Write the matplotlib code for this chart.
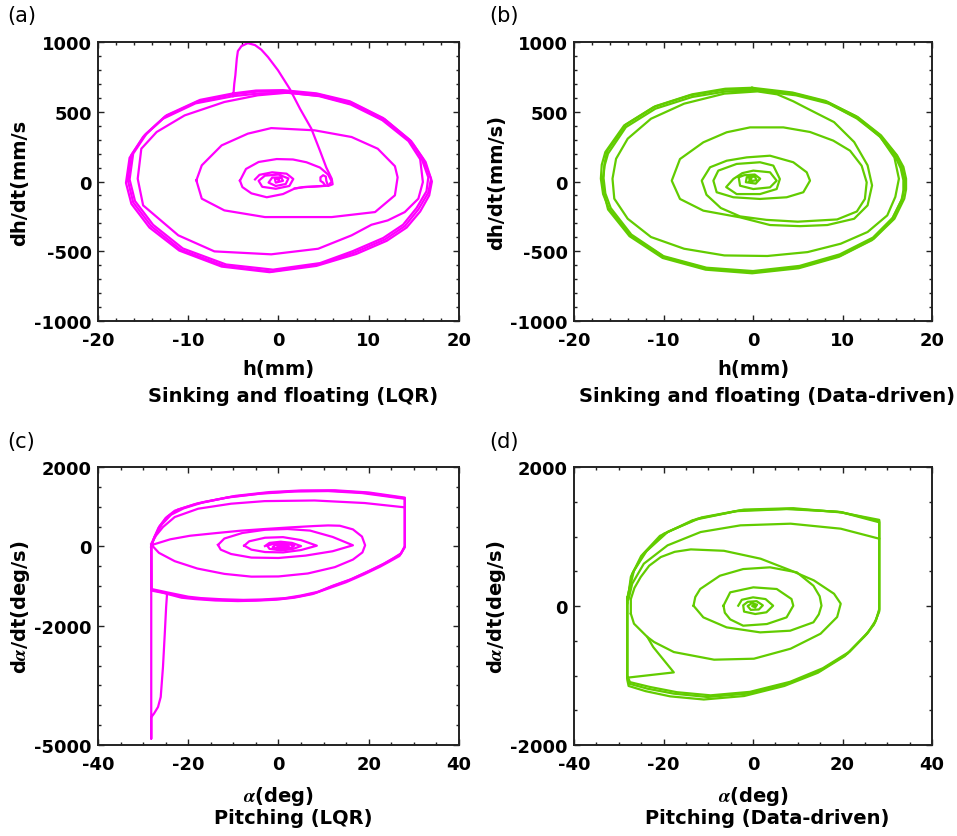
"""
plot.py - phase portraits of the sinking/floating and pitching motion,
LQR versus data-driven controller (four panels, MATLAB-like styling).
"""

import matplotlib
matplotlib.use("Agg")
import matplotlib.pyplot as plt
from matplotlib.ticker import MultipleLocator

# ---------------------------------------------------------------------------
# Data: (position, rate) vertices of each trace
# ---------------------------------------------------------------------------
# (a) sinking and floating, LQR   -- h [mm], dh/dt [mm/s]
A_OUTER1 = [(-5.0, 625), (-2.3, 645), (0.7, 648), (4.4, 625), (8.1, 565), (11.8, 445),
            (14.7, 290), (16.0, 165), (16.9, 20), (16.6, -80), (15.5, -200), (14.0, -320),
            (11.8, -415), (8.4, -510), (4.4, -595), (-0.8, -645), (-6.0, -605), (-10.8, -490),
            (-14.1, -320), (-16.1, -150), (-16.7, 10), (-16.3, 190), (-14.8, 335), (-12.6, 465),
            (-8.9, 575), (-5.0, 625)]
A_OUTER2 = [(-5.0, 612), (-2.0, 632), (1.0, 636), (4.6, 614), (8.3, 552), (11.9, 430),
            (14.9, 270), (16.3, 140), (17.0, 0), (16.7, -100), (15.7, -215), (14.2, -330),
            (12.0, -425), (8.6, -520), (4.2, -605), (-1.0, -650), (-6.3, -610), (-11.0, -495),
            (-14.3, -330), (-16.3, -160), (-16.9, -10), (-16.5, 170), (-15.0, 320), (-12.8, 450),
            (-9.2, 560), (-5.0, 612)]
A_OUTER3 = [(-5.0, 632), (-2.5, 652), (0.5, 655), (4.2, 632), (7.9, 575), (11.6, 455),
            (14.5, 300), (15.8, 175), (16.6, 30), (16.4, -70), (15.3, -190), (13.8, -310),
            (11.6, -405), (8.2, -500), (4.6, -585), (-0.6, -632), (-5.8, -595), (-10.6, -480),
            (-13.9, -310), (-15.9, -140), (-16.5, 15), (-16.1, 200), (-14.6, 345), (-12.4, 475),
            (-8.7, 585), (-5.0, 632)]
A_INNER = [(1.0, 637), (4.5, 612), (8.0, 552), (11.5, 440), (14.4, 290), (15.7, 160),
           (16.0, -4), (15.5, -123), (14.0, -219), (12.1, -279), (10.3, -310), (8.1, -386),
           (4.4, -482), (-0.8, -522), (-7.1, -501), (-11.1, -386), (-15.0, -171), (-15.6, 20),
           (-15.2, 235), (-13.5, 355), (-10.4, 474), (-6.0, 570), (-2.3, 618), (1.0, 637)]
A_RING2 = [(-9.1, 8), (-8.5, 116), (-6.3, 259), (-3.4, 343), (-0.8, 383), (4.0, 367),
           (8.1, 319), (11.0, 235), (12.9, 110), (13.2, 30), (12.9, -99), (10.7, -219),
           (5.9, -255), (-1.5, -255), (-6.0, -207), (-8.5, -123), (-9.1, 8)]
A_RING1 = [(-4.27, 6), (-3.6, 90), (-2.2, 140), (-0.2, 161), (1.6, 158), (3.1, 138),
           (4.6, 100), (5.5, 50), (5.9, 0), (5.5, -30), (4.0, -36), (2.8, -40), (1.8, -50),
           (0.5, -90), (-1.3, -113), (-3.0, -85), (-4.0, -40), (-4.27, 6)]
A_CENTER = [(-2.6, 15), (-2.1, 48), (-0.7, 66), (0.9, 56), (1.64, 18), (1.2, -32), (-0.3, -52),
            (-1.8, -38), (-2.2, 5), (-1.5, 42), (0.0, 50), (1.1, 22), (0.8, -18), (-0.3, -32),
            (-1.1, -8), (-0.7, 28), (0.3, 30), (0.5, 5), (-0.3, -8), (-0.4, 18), (0.1, 20),
            (0.0, 10)]
A_SPIKE = [(-5.0, 620), (-4.9, 700), (-4.78, 761), (-4.62, 880), (-4.5, 935), (-4.1, 971),
           (-3.4, 992), (-2.6, 978), (-1.9, 945), (-1.16, 892), (-0.05, 797), (1.24, 665),
           (2.4, 520), (3.64, 379), (4.6, 220), (5.3, 100), (5.9, 20), (6.0, -20), (5.5, -32),
           (5.3, 5), (5.25, 35), (4.95, 45), (4.65, 30), (4.65, 5), (4.95, -8), (5.2, -30),
           (4.0, -36), (2.8, -40), (1.8, -50)]

# (b) sinking and floating, data-driven
B_OUTER1 = [(0.1, 665), (4.6, 630), (8.3, 570), (11.7, 462), (14.3, 331), (16.1, 187),
            (16.8, 105), (17.1, 20), (17.1, -55), (16.9, -123), (15.8, -267), (13.5, -410),
            (9.8, -530), (5.3, -613), (0.1, -649), (-5.1, -625), (-9.9, -542), (-13.7, -386),
            (-16.1, -195), (-16.75, -90), (-17.0, 20), (-16.9, 120), (-16.5, 211), (-14.4, 402),
            (-11.1, 534), (-7.0, 618), (-3.2, 658), (0.1, 665)]
B_OUTER2 = [(0.3, 652), (4.8, 618), (8.5, 558), (11.8, 450), (14.2, 320), (15.9, 178),
            (16.5, 95), (16.8, 10), (16.8, -65), (16.6, -133), (15.5, -277), (13.3, -420),
            (9.6, -540), (5.1, -622), (-0.1, -658), (-5.3, -632), (-10.1, -548), (-13.8, -392),
            (-16.2, -200), (-16.6, -95), (-16.8, 10), (-16.6, 110), (-16.2, 200), (-14.2, 390),
            (-10.9, 522), (-6.8, 606), (-3.0, 646), (0.3, 652)]
B_OUTER3 = [(-0.1, 672), (4.4, 638), (8.1, 578), (11.5, 468), (14.1, 336), (16.0, 190),
            (16.6, 110), (16.9, 22), (16.9, -50), (16.7, -118), (15.6, -260), (13.4, -402),
            (9.7, -522), (5.2, -605), (0.0, -642), (-5.2, -618), (-10.0, -535), (-13.6, -380),
            (-15.9, -190), (-16.5, -85), (-16.7, 25), (-16.6, 125), (-16.3, 218), (-14.2, 408),
            (-10.9, 540), (-6.8, 625), (-3.1, 665), (-0.1, 672)]
B_SPIRAL = [(8.3, 565), (11.6, 452), (14.2, 322), (15.8, 172), (16.3, 20), (15.9, -110),
            (15.0, -243), (12.8, -362), (9.8, -446), (6.1, -506), (1.6, -534), (-3.2, -530),
            (-7.7, -482), (-11.4, -398), (-14.0, -267), (-15.5, -123), (-15.7, 20), (-15.3, 163),
            (-14.0, 307), (-11.4, 450), (-7.7, 558), (-3.2, 630), (0.5, 646), (2.7, 625),
            (4.5, 575), (6.1, 522), (9.05, 426), (11.3, 283), (12.8, 116), (13.3, -28),
            (12.8, -171), (11.3, -267), (8.3, -312), (5.25, -320), (1.9, -312), (-1.45, -257),
            (-5.55, -209), (-8.16, -125), (-9.08, 6), (-8.16, 161), (-5.55, 281), (-2.94, 353),
            (-0.33, 388), (3.39, 388), (6.37, 355), (8.97, 293), (10.84, 221), (12.14, 113),
            (12.7, -6), (12.5, -125), (11.6, -215), (9.4, -272), (5.0, -288), (1.5, -275),
            (-1.45, -250), (-3.6, -190), (-5.2, -95), (-5.73, 6), (-4.8, 102), (-2.94, 149),
            (-0.7, 173), (1.9, 185), (4.5, 138), (6.0, 66), (6.37, 6), (5.62, -77), (3.76, -113),
            (0.78, -125), (-2.2, -113), (-4.06, -77), (-4.43, 6), (-3.88, 78), (-1.83, 126),
            (0.78, 138), (2.27, 114), (3.0, 18), (2.64, -54), (0.78, -90), (-1.83, -90),
            (-3.0, -40), (-2.2, 18), (-1.2, 60), (0.03, 78), (1.9, 66), (2.64, 6), (1.9, -42),
            (0.03, -54), (-1.45, -30), (-1.6, 30), (-1.0, 45), (0.2, 50), (0.8, 20), (0.3, -15),
            (-0.8, -5), (-0.7, 30), (0.2, 35), (0.4, 10), (-0.4, 0), (-0.4, 20), (-0.2, 18)]

# (c) pitching, LQR   -- alpha [deg], d alpha/dt [deg/s]
C_LAP1 = [(-28.2, 0), (-27.6, 200), (-26.3, 520), (-24.5, 760), (-22.3, 930), (-17.8, 1090),
          (-10.5, 1250), (-3.1, 1345), (4.3, 1395), (11.7, 1405), (19.1, 1355), (28.0, 1215),
          (28.0, 0), (27.0, -200), (25.0, -330), (23.0, -460), (19.5, -650), (15.6, -850),
          (11.5, -1020), (8.2, -1170), (4.5, -1260), (0.8, -1320), (-4.0, -1350), (-8.2, -1360),
          (-13.0, -1345), (-17.8, -1315), (-20.3, -1282), (-24.8, -1180), (-28.1, -1090),
          (-28.2, 0)]
C_LAP2 = [(-28.2, 0), (-27.4, 260), (-25.8, 560), (-23.8, 800), (-21.0, 960), (-16.5, 1120),
          (-9.5, 1275), (-2.0, 1370), (5.0, 1410), (12.5, 1415), (20.0, 1360), (28.0, 1230),
          (28.0, -20), (26.8, -240), (24.6, -380), (22.5, -510), (19.0, -700), (15.0, -900),
          (11.0, -1060), (7.5, -1200), (3.5, -1290), (-0.5, -1340), (-5.0, -1365), (-9.0, -1375),
          (-14.0, -1360), (-18.5, -1325), (-21.5, -1290), (-25.5, -1170), (-28.2, -1110),
          (-28.2, 0)]
C_LAP3 = [(-28.2, 0), (-27.8, 160), (-26.6, 470), (-25.0, 720), (-23.0, 900), (-18.5, 1065),
          (-11.5, 1230), (-4.0, 1330), (3.5, 1385), (11.0, 1395), (18.5, 1345), (28.0, 1200),
          (28.0, 10), (27.2, -170), (25.4, -300), (23.4, -430), (20.0, -620), (16.2, -820),
          (12.0, -990), (8.8, -1140), (5.0, -1235), (1.5, -1300), (-3.5, -1335), (-7.8, -1345),
          (-12.5, -1330), (-17.2, -1300), (-20.0, -1265), (-24.5, -1160), (-28.2, -1070),
          (-28.2, 0)]
C_TOP2 = [(28.0, 985), (19.1, 1094), (8.0, 1158), (-3.1, 1142), (-10.5, 1077), (-17.8, 951),
          (-23.0, 741), (-25.6, 489), (-27.1, 280), (-28.2, 70)]
C_TAIL = [(-28.2, 0), (-28.2, -4840), (-28.2, -4300), (-27.6, -4211), (-26.7, -4043),
          (-26.1, -3791), (-25.6, -3036), (-25.2, -2196), (-24.9, -1525), (-24.7, -1200)]
C_RING_M = [(-28.1, 36), (-24.0, 180), (-19.6, 270), (-14.0, 335), (-8.5, 396), (-3.0, 440),
            (2.5, 480), (8.0, 515), (11.0, 530), (13.6, 522), (16.5, 430), (18.5, 250),
            (19.2, 30), (18.6, -150), (16.5, -330), (12.5, -520), (6.5, -680), (0.0, -755),
            (-6.0, -760), (-12.0, -690), (-18.0, -555), (-23.0, -370), (-26.5, -160), (-28.1, 36)]
C_RING_N = [(-13.4, 40), (-12.0, 200), (-8.0, 340), (-3.0, 420), (2.0, 440), (7.0, 400),
            (12.0, 240), (16.5, 30), (12.0, -120), (6.0, -230), (0.0, -290), (-6.0, -280),
            (-10.5, -190), (-12.8, -80), (-13.4, 40)]
C_RING_O = [(-7.6, 20), (-6.5, 130), (-3.0, 220), (1.0, 235), (5.0, 160), (8.5, 20),
            (5.0, -90), (1.0, -150), (-3.0, -140), (-6.0, -80), (-7.6, 20)]
C_CENTER = [(-3.0, 10), (-2.0, 90), (0.5, 120), (3.0, 90), (5.0, 10), (3.0, -70), (0.5, -100),
            (-2.0, -60), (-2.5, 20), (-1.0, 70), (1.5, 80), (3.5, 20), (2.5, -50), (0.5, -70),
            (-1.3, -20), (-0.7, 40), (1.3, 45), (2.3, 0), (1.0, -40), (-0.3, -10), (0.5, 20),
            (1.3, 0)]

# (d) pitching, data-driven
D_LAP1 = [(-28.1, 80), (-27.0, 465), (-24.4, 753), (-19.9, 1041), (-12.4, 1257), (-2.8, 1377),
          (8.4, 1400), (19.6, 1353), (28.2, 1223), (28.2, -62), (27.3, -230), (25.5, -398),
          (21.1, -686), (15.1, -926), (7.7, -1117), (-1.3, -1261), (-10.2, -1309),
          (-17.7, -1261), (-23.6, -1189), (-27.7, -1117), (-28.1, -1021), (-28.1, 80)]
D_LAP2 = [(-28.1, 40), (-27.3, 420), (-25.0, 720), (-20.8, 1010), (-13.5, 1235), (-3.8, 1365),
          (7.5, 1395), (18.8, 1358), (28.2, 1240), (28.2, -80), (27.0, -270), (25.0, -430),
          (20.5, -720), (14.5, -960), (7.0, -1150), (-2.0, -1295), (-11.0, -1345),
          (-18.5, -1300), (-24.0, -1225), (-27.8, -1150), (-28.1, -1060), (-28.1, 40)]
D_LAP3 = [(-28.1, 120), (-26.6, 510), (-23.8, 790), (-19.0, 1070), (-11.5, 1275), (-2.0, 1388),
          (9.0, 1408), (20.0, 1345), (28.2, 1205), (28.2, -45), (27.5, -200), (25.8, -370),
          (21.6, -655), (15.6, -895), (8.3, -1090), (-0.7, -1235), (-9.5, -1285),
          (-17.0, -1240), (-23.0, -1165), (-27.5, -1095), (-28.1, -1000), (-28.1, 120)]
D_TOP2 = [(28.2, 969), (19.6, 1113), (8.4, 1185), (-2.8, 1161), (-11.7, 1065), (-19.1, 873),
          (-24.4, 609), (-27.0, 321), (-27.8, 100)]
D_NOTCH = [(-28.1, -1031), (-17.7, -955), (-22.3, -590), (-23.6, -446)]
D_RING_M = [(-27.3, -110), (-27.3, 100), (-26.5, 260), (-25.1, 417), (-23.2, 580), (-20.6, 705),
            (-17.5, 780), (-13.9, 815), (-6.5, 795), (1.7, 681), (8.4, 513), (13.6, 369),
            (18.1, 177), (19.6, 34), (18.8, -158), (15.1, -398), (8.4, -614), (0.2, -758),
            (-8.7, -772), (-17.7, -662), (-22.1, -518), (-23.6, -446), (-26.6, -254), (-27.3, -110)]
D_RING_N = [(-13.3, 5), (-12.9, 130), (-11.8, 245), (-7.4, 436), (-2.2, 532), (3.8, 557),
            (9.8, 485), (13.5, 292), (14.9, 140), (15.3, 5), (14.7, -120), (13.5, -234),
            (8.3, -355), (1.6, -379), (-5.9, -307), (-11.1, -163), (-13.3, 5)]
D_RING_O = [(-6.6, 5), (-5.1, 197), (0.07, 269), (5.3, 245), (8.6, 101), (9.0, 5), (7.5, -163),
            (3.1, -259), (-2.2, -283), (-5.1, -192), (-6.3, -96), (-6.6, 5)]
D_CENTER = [(-3.3, 5), (-2.5, 90), (0.0, 125), (2.8, 100), (4.5, 5), (3.0, -90), (0.5, -115),
            (-2.0, -80), (-2.2, 10), (-1.2, 60), (0.8, 70), (2.2, 10), (1.3, -50), (-0.5, -55),
            (-1.2, 0), (-0.3, 40), (0.9, 20), (0.5, -20), (-0.2, 0), (0.3, 10)]

# ---------------------------------------------------------------------------
# Style
# ---------------------------------------------------------------------------
MAGENTA = "#FF00FF"
GREEN = "#62CC00"
LW = 1.6

plt.rcParams["font.family"] = ["DejaVu Sans"]
plt.rcParams["font.weight"] = "bold"
plt.rcParams["mathtext.fontset"] = "stix"
plt.rcParams["axes.unicode_minus"] = False

ALPHA_Y = r"d$\alpha$/dt(deg/s)"
ALPHA_X = r"$\alpha$(deg)"

PANELS = [
    dict(tag="(a)", rect=[0.1024, 0.6153, 0.3772, 0.3333], color=MAGENTA,
         curves=[A_OUTER1, A_OUTER2, A_OUTER3, A_INNER, A_RING2, A_RING1, A_CENTER, A_SPIKE],
         xlim=(-20, 20), ylim=(-1000, 1000), xticks=[-20, -10, 0, 10, 20],
         yticks=[-1000, -500, 0, 500, 1000], xminor=2, yminor=100,
         ylabel="dh/dt(mm/s", xlabel="h(mm)", title="Sinking and floating (LQR)",
         xlab_y=-0.172, title_y=-0.268, tag_xy=(7, 16)),
    dict(tag="(b)", rect=[0.5998, 0.6153, 0.3741, 0.3333], color=GREEN,
         curves=[B_OUTER1, B_OUTER2, B_OUTER3, B_SPIRAL],
         xlim=(-20, 20), ylim=(-1000, 1000), xticks=[-20, -10, 0, 10, 20],
         yticks=[-1000, -500, 0, 500, 1000], xminor=2, yminor=100,
         ylabel="dh/dt(mm/s)", xlabel="h(mm)", title="Sinking and floating (Data-driven)",
         xlab_y=-0.172, title_y=-0.268, tag_xy=(489, 16)),
    dict(tag="(c)", rect=[0.1024, 0.1087, 0.3772, 0.3321], color=MAGENTA,
         curves=[C_LAP1, C_LAP2, C_LAP3, C_TOP2, C_TAIL, C_RING_M, C_RING_N, C_RING_O, C_CENTER],
         xlim=(-40, 40), ylim=(-5000, 2000), xticks=[-40, -20, 0, 20, 40],
         yticks=[-5000, -2000, 0, 2000], xminor=5, yminor=500,
         ylabel=ALPHA_Y, xlabel=ALPHA_X, title="Pitching (LQR)",
         xlab_y=-0.18, title_y=-0.259, tag_xy=(7, 442)),
    dict(tag="(d)", rect=[0.5998, 0.1087, 0.3741, 0.3321], color=GREEN,
         curves=[D_LAP1, D_LAP2, D_LAP3, D_TOP2, D_NOTCH, D_RING_M, D_RING_N, D_RING_O, D_CENTER],
         xlim=(-40, 40), ylim=(-2000, 2000), xticks=[-40, -20, 0, 20, 40],
         yticks=[-2000, 0, 2000], xminor=5, yminor=500,
         ylabel=ALPHA_Y, xlabel=ALPHA_X, title="Pitching (Data-driven)",
         xlab_y=-0.18, title_y=-0.259, tag_xy=(489, 442)),
]

W_PX, H_PX = 957, 837
fig = plt.figure(figsize=(W_PX / 100, H_PX / 100), dpi=100, facecolor="white")

for p in PANELS:
    ax = fig.add_axes(p["rect"])
    for curve in p["curves"]:
        xs = [pt[0] for pt in curve]
        ys = [pt[1] for pt in curve]
        ax.plot(xs, ys, color=p["color"], lw=LW, solid_joinstyle="round")

    ax.set_xlim(*p["xlim"])
    ax.set_ylim(*p["ylim"])
    ax.set_xticks(p["xticks"])
    ax.set_yticks(p["yticks"])
    ax.xaxis.set_minor_locator(MultipleLocator(p["xminor"]))
    ax.yaxis.set_minor_locator(MultipleLocator(p["yminor"]))
    ax.tick_params(which="both", direction="in", top=True, right=True,
                   width=1.0, color="#222222", labelsize=13)
    ax.tick_params(which="major", length=4.5)
    ax.tick_params(which="minor", length=2.5)
    ax.tick_params(axis="x", pad=7)
    ax.tick_params(axis="y", pad=4.5)
    for sp in ax.spines.values():
        sp.set_linewidth(1.4)
        sp.set_color("#222222")

    ax.text(-0.216, 0.5, p["ylabel"], transform=ax.transAxes, rotation=90,
            ha="center", va="center", fontsize=14)
    ax.text(0.5, p["xlab_y"], p["xlabel"], transform=ax.transAxes,
            ha="center", va="center", fontsize=14)
    ax.text(0.54, p["title_y"], p["title"], transform=ax.transAxes,
            ha="center", va="center", fontsize=14)

    tx, ty = p["tag_xy"]
    fig.text(tx / W_PX, 1 - ty / H_PX, p["tag"], fontsize=15, fontweight="normal",
             ha="left", va="center")

fig.savefig("out.png", dpi=100, facecolor="white")
